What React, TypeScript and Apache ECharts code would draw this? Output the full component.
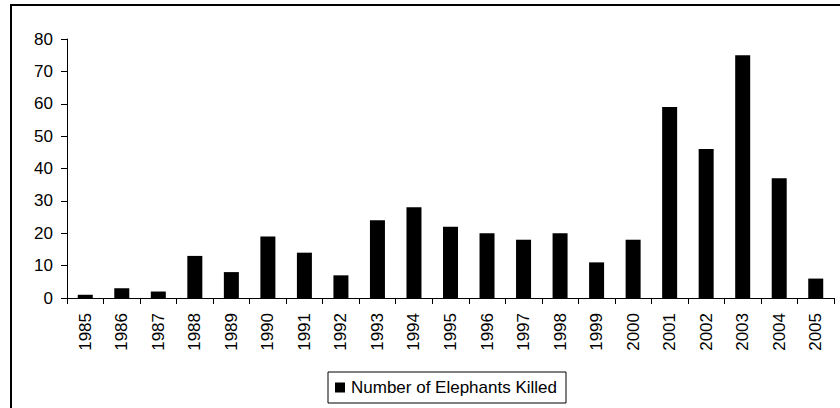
import React, { useEffect, useRef } from "react";
import * as echarts from "echarts";

const years = ["1985","1986","1987","1988","1989","1990","1991","1992","1993","1994","1995","1996","1997","1998","1999","2000","2001","2002","2003","2004","2005"];
const killed = [1, 3, 2, 13, 8, 19, 14, 7, 24, 28, 22, 20, 18, 20, 11, 18, 59, 46, 75, 37, 6];
const seriesName = "Number of Elephants Killed";
const FONT = "'Liberation Sans', Arial, sans-serif";

export default function App() {
  const ref = useRef<HTMLDivElement>(null);
  useEffect(() => {
    if (!ref.current) return;
    const chart = echarts.init(ref.current, undefined, { renderer: "svg" });
    chart.setOption({
      animation: false,
      backgroundColor: "#fff",
      textStyle: { fontFamily: FONT },
      graphic: [
        {
          type: "rect",
          shape: { x: 11, y: 5, width: 900, height: 500 },
          style: { fill: "none", stroke: "#000", lineWidth: 2 },
          silent: true,
        },
      ],
      grid: { left: 67, right: 6, top: 39, bottom: 110, containLabel: false },
      legend: {
        left: 328,
        top: 372,
        orient: "horizontal",
        icon: "rect",
        itemWidth: 10,
        itemHeight: 10,
        padding: [7, 9, 7, 7],
        borderColor: "#000",
        borderWidth: 1,
        textStyle: { fontFamily: FONT, fontSize: 17, color: "#000", padding: [0, 0, 0, 1] },
        data: [seriesName],
      },
      xAxis: {
        type: "category",
        data: years,
        boundaryGap: true,
        axisLine: { lineStyle: { color: "#000", width: 1 } },
        axisTick: { show: true, length: 6, alignWithLabel: false, interval: 0, lineStyle: { color: "#000" } },
        axisLabel: { rotate: 90, interval: 0, margin: 15, fontSize: 17, color: "#000", fontFamily: FONT },
        splitLine: { show: false },
      },
      yAxis: {
        type: "value",
        min: 0,
        max: 80,
        interval: 10,
        axisLine: { show: true, lineStyle: { color: "#000", width: 1 } },
        axisTick: { show: true, length: 6, lineStyle: { color: "#000" } },
        axisLabel: { margin: 14, fontSize: 17, color: "#000", fontFamily: FONT },
        splitLine: { show: false },
      },
      series: [
        {
          name: seriesName,
          type: "bar",
          data: killed,
          barWidth: 15,
          itemStyle: { color: "#000" },
        },
      ],
    });
    return () => chart.dispose();
  }, []);
  return <div ref={ref} style={{ position: "fixed", left: 0, top: 0, width: 840, height: 408 }} />;
}
